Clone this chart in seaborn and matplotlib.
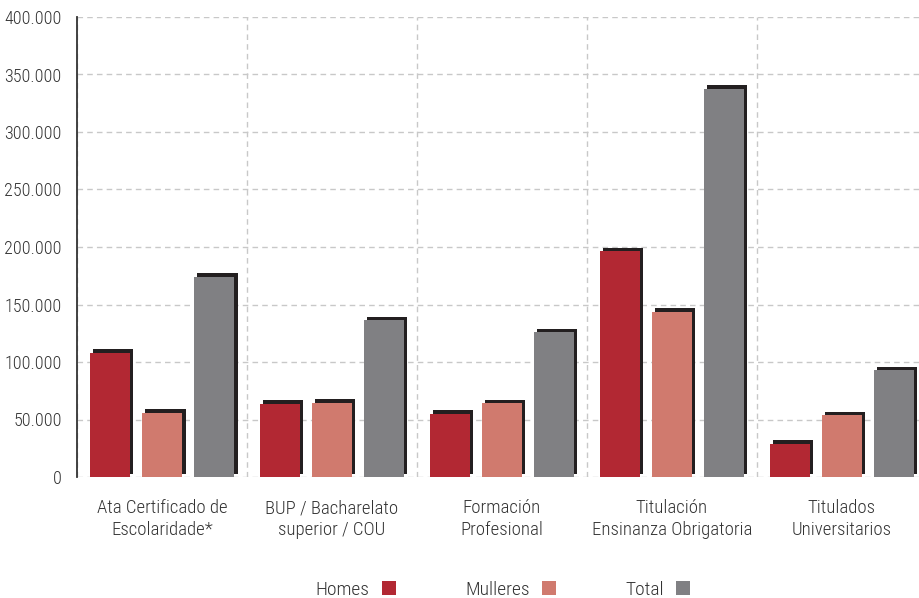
import matplotlib
matplotlib.use('Agg')
import matplotlib.pyplot as plt
import matplotlib.transforms as mtransforms
from matplotlib.patches import Rectangle
from matplotlib.ticker import FixedLocator, FuncFormatter
import numpy as np
import pandas as pd
import seaborn as sns

# --- datos ---
categorias = ['Ata Certificado de\nEscolaridade*', 'BUP / Bacharelato\nsuperior / COU',
              'Formación\nProfesional', 'Titulación\nEnsinanza Obrigatoria',
              'Titulados\nUniversitarios']
homes = [108000, 63500, 54800, 196500, 28700]
mulleres = [55700, 64500, 64300, 143800, 53900]
total = [174200, 136500, 126000, 337400, 93000]
series = ['Homes', 'Mulleres', 'Total']
cores = ['#B22833', '#D07A6E', '#808083']

df = pd.DataFrame({
    'categoria': categorias * 3,
    'serie': np.repeat(series, len(categorias)),
    'valor': homes + mulleres + total,
})

sns.set_style('white')
plt.rcParams['font.family'] = ['Roboto Condensed', 'Liberation Sans', 'DejaVu Sans']
plt.rcParams['font.weight'] = 300
text_col = '#333333'

fig = plt.figure(figsize=(9.2, 5.98), dpi=100)
ax = fig.add_axes([77 / 920, 1 - 477 / 598, 1 - 77 / 920, 460 / 598])

sns.barplot(data=df, x='categoria', y='valor', hue='serie', hue_order=series,
            palette=cores, width=0.918, gap=0.23, saturation=1, ax=ax,
            legend=False, zorder=3, linewidth=0)

# sombra negra detrás de cada barra
offset = mtransforms.ScaledTranslation(3.5 / 100, 3.5 / 100, fig.dpi_scale_trans)
for p in list(ax.patches):
    sh = Rectangle(p.get_xy(), p.get_width(), p.get_height(), facecolor='#231F20',
                   edgecolor='none', transform=ax.transData + offset, zorder=2)
    ax.add_patch(sh)

ax.set_ylim(0, 400000)
ax.set_xlim(-0.5, 4.46)
ax.set_yticks(np.arange(0, 400001, 50000))
ax.yaxis.set_major_formatter(FuncFormatter(lambda v, _: f'{int(v):,}'.replace(',', '.')))

ax.xaxis.set_minor_locator(FixedLocator(np.arange(-0.5, 5, 1)))
ax.tick_params(axis='x', which='major', length=0, pad=16, labelsize=13.5, colors=text_col)
ax.tick_params(axis='x', which='minor', length=4.5, width=1.2, color='#222222')
ax.tick_params(axis='y', length=5, width=1.2, color='#333333', labelsize=13,
               labelcolor=text_col, pad=6)
for lab in ax.get_xticklabels():
    lab.set_linespacing(1.25)

ax.set_axisbelow(True)
ax.grid(axis='y', which='major', color='#c8c8c8', linestyle=(0, (4, 3)), linewidth=1)
ax.grid(axis='x', which='minor', color='#c8c8c8', linestyle=(0, (4, 3)), linewidth=1)
ax.grid(axis='x', which='major', visible=False)

for s in ['top', 'right', 'bottom']:
    ax.spines[s].set_visible(False)
ax.spines['left'].set_color('#333333')
ax.spines['left'].set_linewidth(1.3)
ax.set_xlabel('')
ax.set_ylabel('')

handles = [Rectangle((0, 0), 1, 1, facecolor=c, edgecolor='none') for c in cores]
fig.legend(handles, series, loc='center', bbox_to_anchor=(503 / 920, 1 - 590 / 598),
           ncol=3, frameon=False, markerfirst=False, handlelength=0.72,
           handleheight=0.72, handletextpad=0.6, columnspacing=3.6,
           prop={'size': 14, 'weight': 300}, labelcolor=text_col)

fig.savefig('out.png', dpi=100)
